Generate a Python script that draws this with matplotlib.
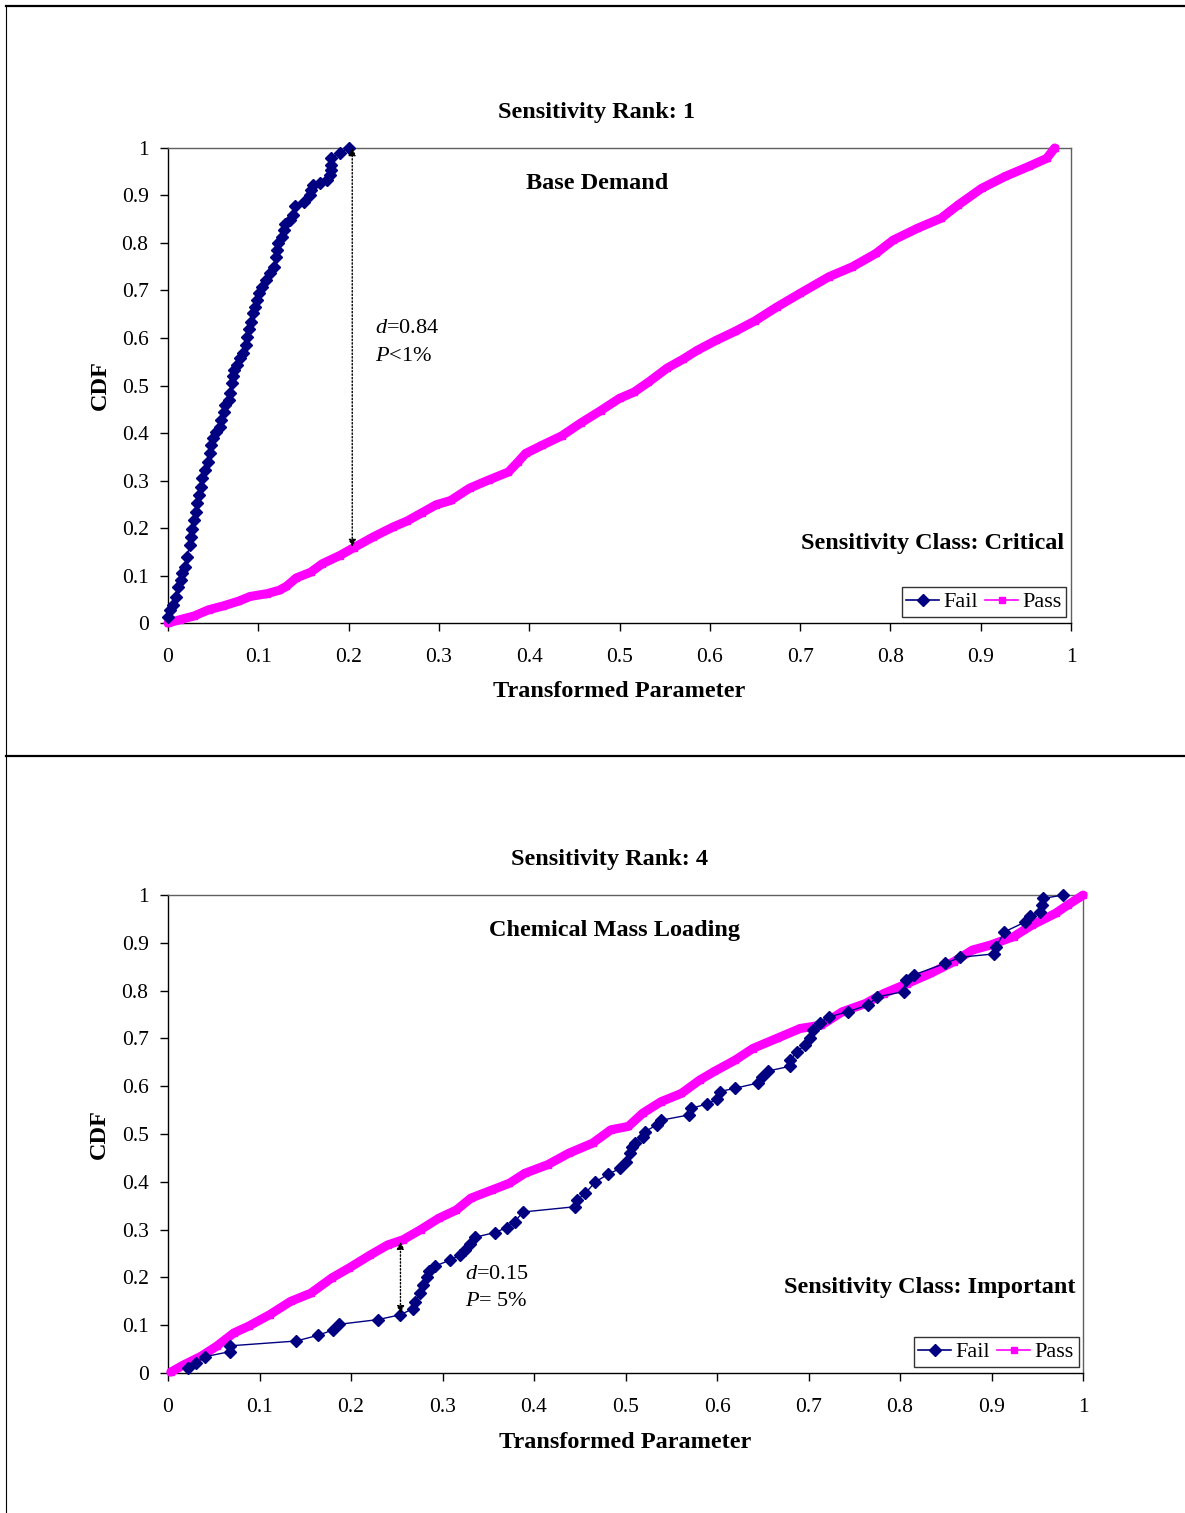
import matplotlib
matplotlib.use("Agg")
import matplotlib.pyplot as plt
from matplotlib.lines import Line2D
from matplotlib.patches import FancyArrowPatch

plt.rcParams['font.family'] = 'Liberation Serif'
plt.rcParams['mathtext.fontset'] = 'custom'
plt.rcParams['mathtext.it'] = 'Liberation Serif:italic'
plt.rcParams['mathtext.rm'] = 'Liberation Serif'

FAIL_COLOR = '#000080'
PASS_COLOR = '#FF00FF'

# --- Base Demand (rank 1) ---
base_fail_x = [0.0, 0.002, 0.006, 0.009, 0.011, 0.014, 0.016, 0.019, 0.021, 0.024,
               0.025, 0.027, 0.029, 0.031, 0.032, 0.034, 0.036, 0.038, 0.041, 0.044,
               0.047, 0.048, 0.050, 0.053, 0.057, 0.059, 0.062, 0.063, 0.067, 0.069,
               0.0705, 0.072, 0.073, 0.076, 0.080, 0.083, 0.086, 0.088, 0.090, 0.092,
               0.094, 0.096, 0.098, 0.101, 0.104, 0.109, 0.113, 0.117, 0.120, 0.121,
               0.122, 0.126, 0.128, 0.130, 0.135, 0.138, 0.141, 0.151, 0.157, 0.158,
               0.160, 0.168, 0.176, 0.179, 0.180, 0.181, 0.181, 0.190, 0.200]
base_fail_y = [0.013, 0.027, 0.038, 0.055, 0.076, 0.091, 0.105, 0.119, 0.140, 0.164,
               0.182, 0.199, 0.217, 0.234, 0.252, 0.269, 0.287, 0.305, 0.322, 0.340,
               0.357, 0.375, 0.389, 0.403, 0.413, 0.427, 0.445, 0.459, 0.469, 0.484,
               0.505, 0.519, 0.533, 0.543, 0.557, 0.568, 0.585, 0.603, 0.620, 0.634,
               0.652, 0.666, 0.680, 0.694, 0.708, 0.722, 0.736, 0.750, 0.771, 0.785,
               0.799, 0.813, 0.827, 0.841, 0.848, 0.859, 0.877, 0.887, 0.901, 0.912,
               0.922, 0.927, 0.933, 0.943, 0.954, 0.964, 0.978, 0.989, 1.0]
base_pass_x = [0.0, 0.013, 0.029, 0.045, 0.061, 0.078, 0.091, 0.110, 0.123, 0.131,
               0.142, 0.158, 0.171, 0.190, 0.206, 0.227, 0.249, 0.265, 0.281, 0.297,
               0.313, 0.334, 0.355, 0.377, 0.388, 0.396, 0.414, 0.436, 0.457, 0.479,
               0.500, 0.516, 0.532, 0.553, 0.570, 0.586, 0.607, 0.628, 0.650, 0.674,
               0.700, 0.732, 0.758, 0.784, 0.803, 0.830, 0.856, 0.875, 0.901, 0.927,
               0.953, 0.973, 0.982]
base_pass_y = [0.0, 0.007, 0.015, 0.028, 0.036, 0.046, 0.056, 0.062, 0.069, 0.077,
               0.095, 0.107, 0.125, 0.142, 0.159, 0.181, 0.202, 0.215, 0.232, 0.249,
               0.258, 0.284, 0.301, 0.318, 0.340, 0.357, 0.374, 0.394, 0.421, 0.447,
               0.473, 0.486, 0.507, 0.537, 0.555, 0.574, 0.595, 0.614, 0.636, 0.665,
               0.694, 0.729, 0.750, 0.778, 0.806, 0.831, 0.852, 0.880, 0.915, 0.940,
               0.961, 0.978, 1.0]

# --- Chemical Mass Loading (rank 4) ---
chem_fail_x = [0.022, 0.031, 0.040, 0.068, 0.068, 0.140, 0.164, 0.180, 0.187, 0.230,
               0.254, 0.268, 0.270, 0.275, 0.279, 0.283, 0.285, 0.292, 0.308, 0.319,
               0.325, 0.330, 0.3355, 0.357, 0.370, 0.379, 0.388, 0.445, 0.447, 0.456,
               0.467, 0.481, 0.494, 0.501, 0.505, 0.507, 0.510, 0.519, 0.521, 0.534,
               0.539, 0.569, 0.572, 0.589, 0.600, 0.603, 0.620, 0.645, 0.649, 0.656,
               0.680, 0.680, 0.687, 0.696, 0.702, 0.705, 0.713, 0.722, 0.743, 0.765,
               0.775, 0.804, 0.806, 0.815, 0.849, 0.866, 0.903, 0.905, 0.914, 0.937,
               0.942, 0.953, 0.955, 0.956, 0.978]
chem_fail_y = [0.010, 0.022, 0.034, 0.045, 0.057, 0.067, 0.079, 0.090, 0.102, 0.112,
               0.122, 0.135, 0.149, 0.167, 0.184, 0.201, 0.214, 0.224, 0.236, 0.247,
               0.258, 0.271, 0.284, 0.294, 0.304, 0.317, 0.337, 0.348, 0.362, 0.376,
               0.400, 0.416, 0.428, 0.442, 0.460, 0.473, 0.481, 0.494, 0.505, 0.519,
               0.529, 0.540, 0.554, 0.563, 0.573, 0.589, 0.596, 0.607, 0.620, 0.632,
               0.642, 0.655, 0.672, 0.686, 0.702, 0.718, 0.733, 0.745, 0.756, 0.770,
               0.787, 0.798, 0.822, 0.833, 0.857, 0.870, 0.877, 0.892, 0.923, 0.944,
               0.956, 0.965, 0.979, 0.993, 1.0]
chem_pass_x = [0.003, 0.017, 0.036, 0.053, 0.072, 0.088, 0.111, 0.134, 0.156, 0.179,
               0.198, 0.221, 0.240, 0.257, 0.276, 0.296, 0.315, 0.331, 0.354, 0.373,
               0.390, 0.415, 0.438, 0.464, 0.484, 0.503, 0.519, 0.539, 0.561, 0.581,
               0.597, 0.620, 0.639, 0.665, 0.691, 0.714, 0.737, 0.762, 0.782, 0.808,
               0.833, 0.859, 0.879, 0.898, 0.924, 0.944, 0.970, 0.983, 1.0]
chem_pass_y = [0.002, 0.017, 0.035, 0.056, 0.084, 0.098, 0.122, 0.150, 0.167, 0.199,
               0.220, 0.247, 0.268, 0.279, 0.300, 0.324, 0.341, 0.366, 0.383, 0.397,
               0.418, 0.436, 0.460, 0.481, 0.509, 0.516, 0.544, 0.568, 0.585, 0.613,
               0.631, 0.655, 0.679, 0.700, 0.721, 0.728, 0.756, 0.773, 0.794, 0.815,
               0.836, 0.861, 0.885, 0.895, 0.913, 0.937, 0.962, 0.979, 1.0]

ticks = [0, 0.1, 0.2, 0.3, 0.4, 0.5, 0.6, 0.7, 0.8, 0.9, 1]
tick_labels = ['0', '0.1', '0.2', '0.3', '0.4', '0.5', '0.6', '0.7', '0.8', '0.9', '1']


def draw_panel(ax, fx, fy, px, py, rank, name, sens_class, d_val, p_text,
               arrow_x, arrow_lo, text_xy, class_y, title_x, name_x):
    ax.plot(px, py, color=PASS_COLOR, lw=6.5, marker='s', ms=5,
            solid_capstyle='round', clip_on=False, zorder=3)
    ax.plot(fx, fy, color=FAIL_COLOR, lw=1, marker='D', ms=6,
            clip_on=False, zorder=4)

    ax.set_xlim(0, 1)
    ax.set_ylim(0, 1)
    ax.set_xticks(ticks)
    ax.set_xticklabels(tick_labels)
    ax.set_yticks(ticks)
    ax.set_yticklabels(tick_labels)
    ax.tick_params(axis='x', direction='out', length=6, width=1, pad=12,
                   labelsize=15.5)
    ax.tick_params(axis='y', direction='out', length=6, width=1, pad=8,
                   labelsize=15.5)
    for side in ['top', 'right']:
        ax.spines[side].set_color('#606060')
        ax.spines[side].set_linewidth(1)
    for side in ['left', 'bottom']:
        ax.spines[side].set_color('black')
        ax.spines[side].set_linewidth(1)

    # KS distance arrow
    arr = FancyArrowPatch((arrow_x, arrow_lo), (arrow_x, arrow_lo + d_val),
                          arrowstyle='<|-|>', mutation_scale=11,
                          color='black', lw=1, linestyle=(0, (1, 1.5)),
                          shrinkA=0, shrinkB=0, zorder=5)
    ax.add_patch(arr)

    ax.text(text_xy[0], text_xy[1], r'$d$' + '=%.2f' % d_val, fontsize=16,
            ha='left', va='center')
    ax.text(text_xy[0], text_xy[1] - 0.057, p_text, fontsize=16,
            ha='left', va='center')

    ax.text(title_x, 1.074, 'Sensitivity Rank: %d' % rank, transform=ax.transAxes,
            fontsize=17.5, fontweight='bold', ha='center', va='center')
    ax.text(name_x, 0.925, name, transform=ax.transAxes,
            fontsize=17.5, fontweight='bold', ha='center', va='center')
    ax.text(0.992, class_y, 'Sensitivity Class: ' + sens_class,
            transform=ax.transAxes, fontsize=17.5, fontweight='bold',
            ha='right', va='center')
    ax.text(-0.075, 0.5, 'CDF', transform=ax.transAxes, rotation=90,
            fontsize=17.5, fontweight='bold', ha='center', va='center')
    ax.text(0.5, -0.145, 'Transformed Parameter', transform=ax.transAxes,
            fontsize=17.5, fontweight='bold', ha='center', va='center')

    handles = [Line2D([], [], color=FAIL_COLOR, lw=1.2, marker='D', ms=6),
               Line2D([], [], color=PASS_COLOR, lw=1.2, marker='s', ms=5)]
    leg = ax.legend(handles, ['Fail', 'Pass'], ncol=2, loc='lower right',
                    bbox_to_anchor=(0.995, 0.013), fontsize=16, frameon=True,
                    fancybox=False, edgecolor='black', handlelength=1.5,
                    handletextpad=0.2, columnspacing=0.3, borderpad=0.2,
                    borderaxespad=0)
    leg.get_frame().set_linewidth(1)


fig = plt.figure(figsize=(11.85, 15.13), dpi=100)

ax1 = fig.add_axes([0.1418, 0.5882, 0.7620, 0.3140])
draw_panel(ax1, base_fail_x, base_fail_y, base_pass_x, base_pass_y,
           1, 'Base Demand', 'Critical', 0.84, r'$P$<1%',
           0.204, 0.16, (0.229, 0.619), 0.168, 0.475, 0.475)

ax2 = fig.add_axes([0.1418, 0.0925, 0.7722, 0.3159])
draw_panel(ax2, chem_fail_x, chem_fail_y, chem_pass_x, chem_pass_y,
           4, 'Chemical Mass Loading', 'Important', 0.15, r'$P$= 5%',
           0.254, 0.125, (0.3246, 0.207), 0.178, 0.483, 0.488)

# page frame lines
fig.add_artist(Line2D([0.005, 1.0], [0.9960, 0.9960], color='black', lw=1.6))
fig.add_artist(Line2D([0.0051, 0.0051], [0.0, 0.9960], color='black', lw=0.8))
fig.add_artist(Line2D([0.005, 1.0], [0.5003, 0.5003], color='black', lw=1.6))

fig.savefig('out.png', dpi=100, facecolor='white')
